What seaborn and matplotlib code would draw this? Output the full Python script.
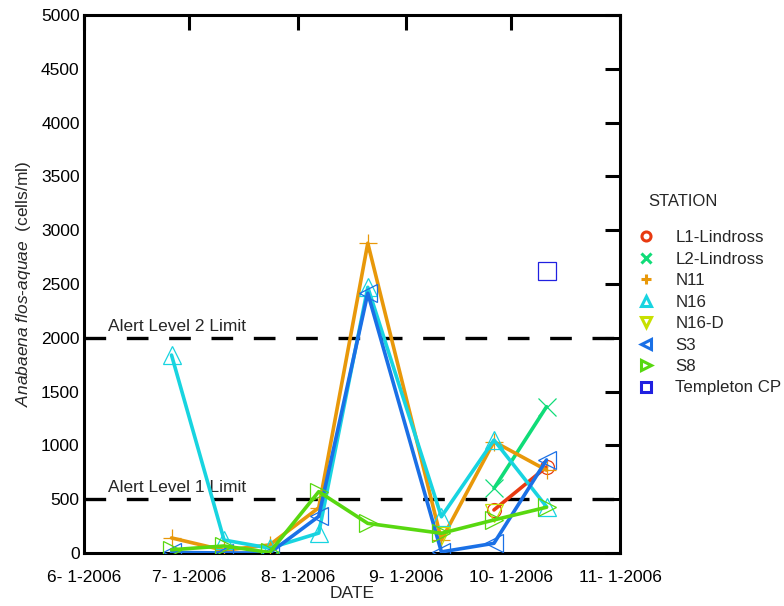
import pandas as pd
import seaborn as sns
import matplotlib.pyplot as plt
from matplotlib.lines import Line2D

## Anabaena flos-aquae counts per station, summer 2006

sns.set_style("white")
plt.rcParams['font.family'] = ['Liberation Sans', 'DejaVu Sans']
plt.rcParams['mathtext.fontset'] = 'custom'
plt.rcParams['mathtext.it'] = 'Liberation Sans:italic'
plt.rcParams['mathtext.rm'] = 'Liberation Sans'

# sample dates
dates = ["2006-06-26", "2006-07-11", "2006-07-24", "2006-08-07",
         "2006-08-21", "2006-09-11", "2006-09-26", "2006-10-11"]

# values (cells/ml)
l1_dates = ["2006-09-26", "2006-10-11"]
l1_vals = [400, 800]
l2_dates = ["2006-09-26", "2006-10-11"]
l2_vals = [600, 1360]
n11_vals = [140, 25, 75, 420, 2880, 120, 1035, 770]
n16_vals = [1840, 120, 45, 185, 2470, 337, 1050, 430]
n16d_dates = ["2006-09-11", "2006-09-26"]
n16d_vals = [160, 375]
s3_vals = [5, 0, 0, 340, 2415, 10, 90, 865]
s8_vals = [30, 65, 5, 570, 275, 183, 307, 425]
templeton_dates = ["2006-10-11"]
templeton_vals = [2620]

stations = ["L1-Lindross", "L2-Lindross", "N11", "N16", "N16-D", "S3", "S8", "Templeton CP"]
colors = ["#e83a10", "#10dc78", "#e8980a", "#18d4e0", "#c8e000", "#1a70e6", "#58d810", "#2020e0"]
markers = ["o", "x", "+", "^", "v", "<", ">", "s"]

series = [
    (l1_dates, l1_vals), (l2_dates, l2_vals), (dates, n11_vals), (dates, n16_vals),
    (n16d_dates, n16d_vals), (dates, s3_vals), (dates, s8_vals),
    (templeton_dates, templeton_vals),
]

frames = []
for name, (d, v) in zip(stations, series):
    frames.append(pd.DataFrame({"DATE": pd.to_datetime(d), "count": v, "STATION": name}))
df = pd.concat(frames, ignore_index=True)

month_ticks = pd.to_datetime(["2006-06-01", "2006-07-01", "2006-08-01",
                              "2006-09-01", "2006-10-01", "2006-11-01"])
month_labels = ["6- 1-2006", "7- 1-2006", "8- 1-2006", "9- 1-2006", "10- 1-2006", "11- 1-2006"]

fig = plt.figure(figsize=(7.84, 6.06), dpi=100)
ax = fig.add_axes([0.107, 0.0875, 0.684, 0.8875])

# alert levels
ax.axhline(2000, color="black", lw=2.4, dashes=(6.5, 6.2), zorder=1)
ax.axhline(500, color="black", lw=2.4, dashes=(6.5, 6.2), zorder=1)
ax.text(pd.Timestamp("2006-06-08"), 2040, "Alert Level 2 Limit", fontsize=12.5, va="bottom")
ax.text(pd.Timestamp("2006-06-08"), 540, "Alert Level 1 Limit", fontsize=12.5, va="bottom")

for name, col, mk in zip(stations, colors, markers):
    sub = df[df["STATION"] == name]
    ls = "-" if name != "N16-D" else "none"
    ms = 10 if mk == "o" else 13
    sns.lineplot(data=sub, x="DATE", y="count", ax=ax, color=col, lw=2.6, ls=ls,
                 marker=mk, markersize=ms, mfc="none", mec=col, mew=0.9,
                 sort=False, estimator=None, zorder=3)

ax.set_xlim(month_ticks[0], month_ticks[-1])
ax.set_ylim(0, 5000)
ax.set_xticks(month_ticks)
ax.set_xticklabels(month_labels)
ax.set_yticks(range(0, 5001, 500))
ax.tick_params(axis="both", direction="in", length=11, width=2.2, labelsize=12.5,
               top=True, right=True, colors="black")
ax.tick_params(axis="x", pad=12)
ax.tick_params(axis="y", pad=3)
for sp in ax.spines.values():
    sp.set_linewidth(2.2)
    sp.set_color("black")

ax.set_xlabel("DATE", fontsize=12.5, labelpad=1)
ax.set_ylabel(r"$\it{Anabaena}$ $\it{flos}$-$\it{aquae}$  (cells/ml)", fontsize=12.5, labelpad=6)

# legend, title placed separately to match the gap
fig.text(0.827, 0.668, "STATION", fontsize=12, va="center", ha="left")
handles = [Line2D([], [], ls="none", marker=mk, color=col, markersize=6.5, mew=2.2,
                  mfc="none", mec=col) for col, mk in zip(colors, markers)]
leg = ax.legend(handles, stations, loc="upper left",
                bbox_to_anchor=(0.805, 0.631), bbox_transform=fig.transFigure,
                frameon=False, fontsize=12.2, labelspacing=0.38,
                handlelength=1.0, handletextpad=1.2, borderaxespad=0)

fig.savefig("out.png", dpi=100)
